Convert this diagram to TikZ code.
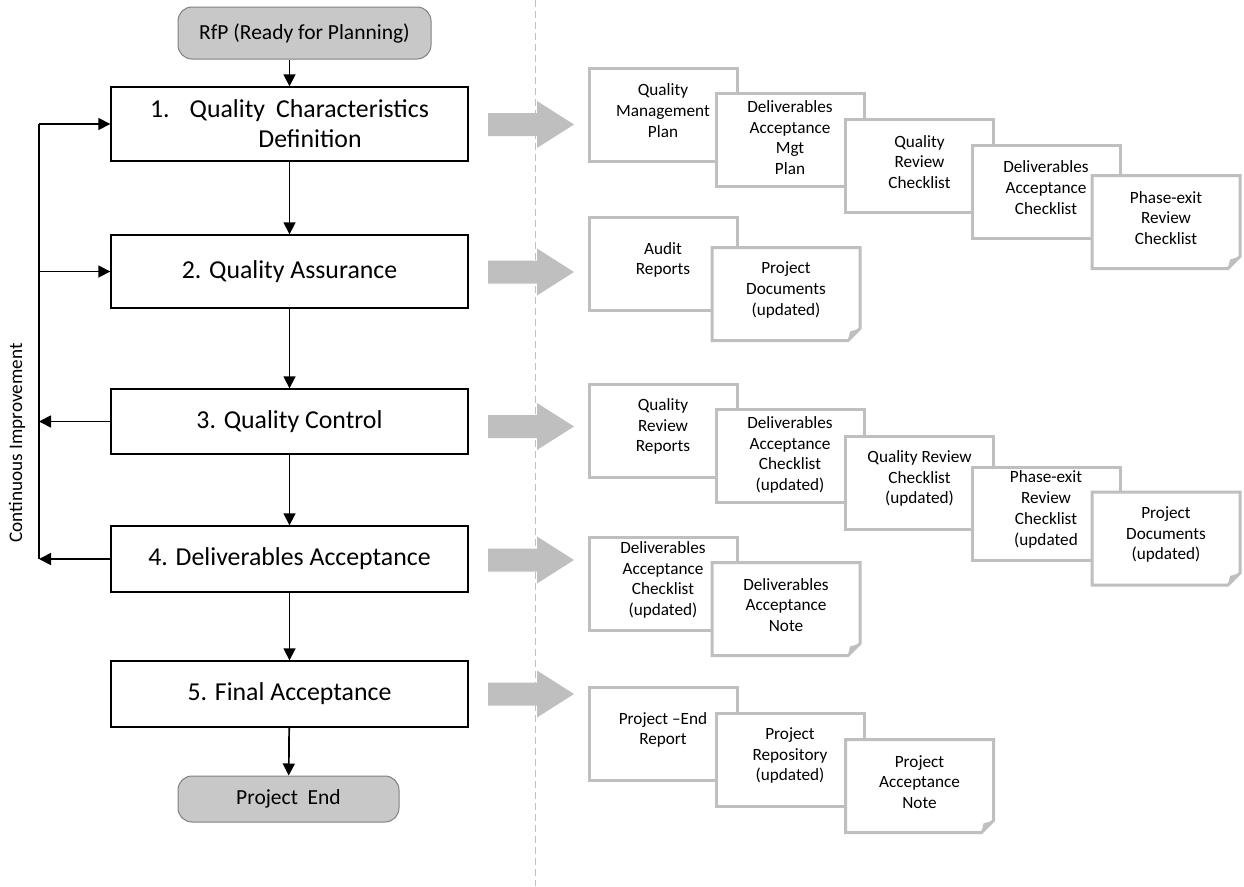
\documentclass[tikz,border=0pt]{standalone}
\usepackage{fontspec}
\setmainfont{Carlito}
\usetikzlibrary{arrows.meta}
\definecolor{docgray}{RGB}{191,191,191}
\definecolor{termfill}{RGB}{200,200,200}
\definecolor{termdraw}{RGB}{128,128,128}
\definecolor{dashgray}{RGB}{192,192,192}
\begin{document}
\begin{tikzpicture}[x=1pt,y=-1pt,
 stepbox/.style={draw=black, line width=1.4pt, fill=white, minimum width=357pt, inner sep=0pt, font=\fontsize{25.8}{30}\selectfont, align=center},
 term/.style={draw=termdraw, line width=1pt, fill=termfill, rounded corners=14pt, font=\fontsize{21.5}{26}\selectfont, inner sep=0pt},
 flow/.style={line width=1.7pt, -{Triangle[length=12pt,width=12pt]}},
 feed/.style={line width=1.7pt},
 docbox/.style={draw=docgray, line width=3pt, fill=white, minimum width=148pt, minimum height=93pt, inner sep=0pt},
 docnode/.style={minimum width=148pt, minimum height=93pt, inner sep=0pt, outer sep=0pt},
 doctext/.style={font=\fontsize{17.2}{20.8}\selectfont, align=center, inner sep=0pt},
 bigarrow/.style={fill=docgray}]
\useasboundingbox (0,0) rectangle (1244,886);

% main flow
\node[term, minimum width=253pt, minimum height=52pt] (rfp) at (304.5,33) {RfP (Ready for Planning)};
\node[stepbox, minimum height=74pt] (b1) at (289.5,124) {1.\hspace{20pt}Quality\hspace{11pt}Characteristics\\\hspace*{41pt}Definition};
\node[stepbox, minimum height=73pt] (b2) at (289.5,271.5) {2. Quality Assurance};
\node[stepbox, minimum height=65pt] (b3) at (289.5,421.5) {3. Quality Control};
\node[stepbox, minimum height=66pt] (b4) at (289.5,559) {4. Deliverables Acceptance};
\node[stepbox, minimum height=66pt] (b5) at (289.5,694) {5. Final Acceptance};
\node[term, minimum width=221pt, minimum height=46pt] (pe) at (288.5,799) {Project~~End};

\draw[flow] (rfp.south -| b1.north) -- (b1.north);
\draw[flow] (b1) -- (b2);
\draw[flow] (b2) -- (b3);
\draw[flow] (b3) -- (b4);
\draw[flow] (b4) -- (b5);
\draw[flow] (b5) -- (pe);

% feedback loop
\coordinate (fbx) at (39,0);
\draw[feed] (b1.west -| fbx) -- (b4.west -| fbx);
\draw[flow] (b1.west -| fbx) -- (b1.west);
\draw[flow] (b2.west -| fbx) -- (b2.west);
\draw[flow] (b3.west) -- (b3.west -| fbx);
\draw[flow] (b4.west) -- (b4.west -| fbx);
\node[rotate=90, font=\fontsize{19.2}{23}\selectfont, inner sep=0pt] (ci) at (17,443) {Continuous Improvement};

% block arrows
\foreach \yy in {124.5,272,426.5,560,694}{
  \fill[bigarrow] (488,\yy-11.5) -- (537,\yy-11.5) -- (537,\yy-23.5) -- (574,\yy) -- (537,\yy+23.5) -- (537,\yy+11.5) -- (488,\yy+11.5) -- cycle;
}

% dashed separator
\coordinate (dtop) at (535,0);
\coordinate (dbot) at (535,886);
\draw[dashgray, line width=1pt, dash pattern=on 7pt off 4pt] (dtop) -- (dbot);

% row 1
\node[docbox] (r1a) at (663,114.5) {};
\node[doctext] (r1at) at ([yshift=4pt]r1a.center) {Quality\\Management\\Plan};
\node[docbox] (r1b) at (790,139.5) {};
\node[doctext] (r1bt) at ([yshift=2pt]r1b.center) {Deliverables\\Acceptance\\Mgt\\Plan};
\node[docbox] (r1c) at (919.5,166) {};
\node[doctext] (r1ct) at ([yshift=4pt]r1c.center) {Quality\\Review\\Checklist};
\node[docbox] (r1d) at (1046,191.5) {};
\node[doctext] (r1dt) at ([yshift=4pt]r1d.center) {Deliverables\\Acceptance\\Checklist};
\node[docnode] (r1e) at (1166,222) {};
\filldraw[draw=docgray, fill=white, line width=3pt] (r1e.north west) -- (r1e.north east) -- ([yshift=12pt]r1e.south east) -- ([xshift=-12pt]r1e.south east) -- (r1e.south west) -- cycle;
\fill[docgray] ([yshift=12pt]r1e.south east) -- ([xshift=-12pt]r1e.south east) -- ([xshift=-10pt,yshift=9pt]r1e.south east) -- cycle;
\node[doctext] (r1et) at ([yshift=4pt]r1e.center) {Phase-exit\\Review\\Checklist};

% row 2
\node[docbox] (r2a) at (663,264) {};
\node[doctext] (r2at) at ([yshift=4pt]r2a.center) {Audit\\Reports};
\node[docnode] (r2b) at (786,294) {};
\filldraw[draw=docgray, fill=white, line width=3pt] (r2b.north west) -- (r2b.north east) -- ([yshift=12pt]r2b.south east) -- ([xshift=-12pt]r2b.south east) -- (r2b.south west) -- cycle;
\fill[docgray] ([yshift=12pt]r2b.south east) -- ([xshift=-12pt]r2b.south east) -- ([xshift=-10pt,yshift=9pt]r2b.south east) -- cycle;
\node[doctext] (r2bt) at ([yshift=4pt]r2b.center) {Project\\Documents\\(updated)};

% row 3
\node[docbox] (r3a) at (663,430.5) {};
\node[doctext] (r3at) at ([yshift=4pt]r3a.center) {Quality\\Review\\Reports};
\node[docbox] (r3b) at (790,456) {};
\node[doctext] (r3bt) at ([yshift=1pt]r3b.center) {Deliverables\\Acceptance\\Checklist\\(updated)};
\node[docbox] (r3c) at (919.5,482.5) {};
\node[doctext] (r3ct) at ([yshift=4pt]r3c.center) {Quality Review\\Checklist\\(updated)};
\node[docbox] (r3d) at (1046,513.5) {};
\node[doctext] (r3dt) at ([yshift=4pt]r3d.center) {Phase-exit\\Review\\Checklist\\(updated};
\node[docnode] (r3e) at (1166,538.5) {};
\filldraw[draw=docgray, fill=white, line width=3pt] (r3e.north west) -- (r3e.north east) -- ([yshift=12pt]r3e.south east) -- ([xshift=-12pt]r3e.south east) -- (r3e.south west) -- cycle;
\fill[docgray] ([yshift=12pt]r3e.south east) -- ([xshift=-12pt]r3e.south east) -- ([xshift=-10pt,yshift=9pt]r3e.south east) -- cycle;
\node[doctext] (r3et) at ([yshift=4pt]r3e.center) {Project\\Documents\\(updated)};

% row 4
\node[docbox] (r4a) at (663,584) {};
\node[doctext] (r4at) at ([yshift=4pt]r4a.center) {Deliverables\\Acceptance\\Checklist\\(updated)};
\node[docnode] (r4b) at (786,609) {};
\filldraw[draw=docgray, fill=white, line width=3pt] (r4b.north west) -- (r4b.north east) -- ([yshift=12pt]r4b.south east) -- ([xshift=-12pt]r4b.south east) -- (r4b.south west) -- cycle;
\fill[docgray] ([yshift=12pt]r4b.south east) -- ([xshift=-12pt]r4b.south east) -- ([xshift=-10pt,yshift=9pt]r4b.south east) -- cycle;
\node[doctext] (r4bt) at ([yshift=4pt]r4b.center) {Deliverables\\Acceptance\\Note};

% row 5
\node[docbox] (r5a) at (663,734) {};
\node[doctext] (r5at) at ([yshift=4pt]r5a.center) {Project –End\\Report};
\node[docbox] (r5b) at (790,759.5) {};
\node[doctext] (r5bt) at ([yshift=4pt]r5b.center) {Project\\Repository\\(updated)};
\node[docnode] (r5c) at (919.5,786) {};
\filldraw[draw=docgray, fill=white, line width=3pt] (r5c.north west) -- (r5c.north east) -- ([yshift=12pt]r5c.south east) -- ([xshift=-12pt]r5c.south east) -- (r5c.south west) -- cycle;
\fill[docgray] ([yshift=12pt]r5c.south east) -- ([xshift=-12pt]r5c.south east) -- ([xshift=-10pt,yshift=9pt]r5c.south east) -- cycle;
\node[doctext] (r5ct) at ([yshift=4pt]r5c.center) {Project\\Acceptance\\Note};
\end{tikzpicture}
\end{document}
